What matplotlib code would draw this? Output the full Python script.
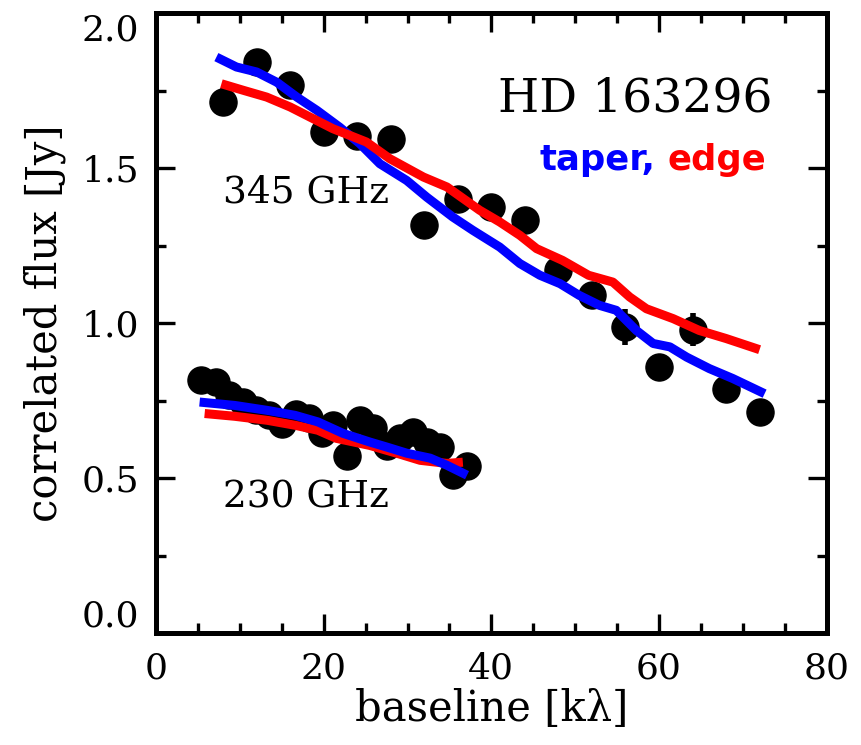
import numpy as np
import matplotlib
matplotlib.use("Agg")
import matplotlib.pyplot as plt
from matplotlib.ticker import MultipleLocator

# 345 GHz visibilities
x345 = [8, 12, 16, 20, 24, 28, 32, 36, 40, 44, 48, 52, 56, 60, 64, 68, 72]
y345 = [1.714, 1.843, 1.768, 1.617, 1.606, 1.596, 1.316, 1.402, 1.375, 1.332,
        1.171, 1.090, 0.988, 0.859, 0.980, 0.789, 0.714]
e345 = [0.045, 0.03, 0.03, 0.03, 0.03, 0.03, 0.03, 0.03, 0.03, 0.03,
        0.03, 0.03, 0.058, 0.03, 0.052, 0.03, 0.03]

# 230 GHz visibilities
x230 = [5.4, 7.2, 8.7, 10.4, 11.9, 13.5, 15.0, 16.7, 18.2, 19.8, 21.1,
        22.8, 24.3, 25.9, 27.5, 29.1, 30.6, 32.3, 33.9, 35.4, 37.1]
y230 = [0.816, 0.810, 0.768, 0.745, 0.719, 0.703, 0.674, 0.706, 0.694, 0.645, 0.671,
        0.571, 0.687, 0.661, 0.603, 0.629, 0.648, 0.616, 0.600, 0.510, 0.539]
e230 = [0.02] * len(x230)

# models
taper345_x = [7.2, 9.6, 12.0, 14.4, 16.8, 19.2, 21.9, 24.3, 26.7, 29.9, 32.3, 35.4,
              37.8, 41.0, 43.4, 45.8, 48.2, 50.5, 52.9, 54.9, 57.3, 59.3, 61.3,
              63.3, 66.0, 68.8, 72.6]
taper345_y = [1.859, 1.827, 1.811, 1.778, 1.730, 1.687, 1.633, 1.580, 1.515, 1.461,
              1.407, 1.343, 1.300, 1.246, 1.193, 1.155, 1.128, 1.090, 1.058, 1.042,
              0.977, 0.935, 0.924, 0.891, 0.854, 0.822, 0.773]
edge345_x = [7.8, 10.4, 13.2, 16.0, 18.4, 21.1, 25.1, 27.9, 31.9, 34.7, 38.6, 41.0,
             43.4, 45.4, 48.5, 51.6, 54.5, 56.5, 58.5, 61.7, 64.8, 68.0, 72.0]
edge345_y = [1.773, 1.752, 1.730, 1.698, 1.665, 1.628, 1.585, 1.531, 1.472, 1.440,
             1.365, 1.327, 1.284, 1.241, 1.203, 1.155, 1.133, 1.085, 1.047, 1.015,
             0.977, 0.951, 0.915]
taper230_x = [5.2, 9.4, 13.3, 16.6, 19.3, 22.3, 25.5, 27.5, 29.9, 32.7, 34.7, 37.1]
taper230_y = [0.746, 0.735, 0.719, 0.703, 0.682, 0.645, 0.617, 0.601, 0.581, 0.565,
              0.542, 0.510]
edge230_x = [5.8, 9.4, 13.3, 16.6, 19.3, 21.5, 25.5, 28.7, 31.5, 34.7, 36.6]
edge230_y = [0.709, 0.700, 0.687, 0.671, 0.655, 0.629, 0.606, 0.581, 0.558, 0.548, 0.552]

serif = "DejaVu Serif"

fig = plt.figure(figsize=(8.62, 7.45), dpi=100)
ax = fig.add_axes([0.181, 0.150, 0.778, 0.832])

# data points
ax.errorbar(x345, y345, yerr=e345, fmt="o", color="k", ms=19.5, elinewidth=4, capsize=0, zorder=2)
ax.errorbar(x230, y230, yerr=e230, fmt="o", color="k", ms=19.5, elinewidth=4, capsize=0, zorder=2)

# model curves
ax.plot(taper345_x, taper345_y, color="#0000ff", lw=6.5, zorder=3, solid_capstyle="butt")
ax.plot(edge345_x, edge345_y, color="#ff0000", lw=6.5, zorder=4, solid_capstyle="butt")
ax.plot(edge230_x, edge230_y, color="#ff0000", lw=6.5, zorder=3, solid_capstyle="butt")
ax.plot(taper230_x, taper230_y, color="#0000ff", lw=6.5, zorder=4, solid_capstyle="butt")

ax.set_xlim(0, 80)
ax.set_ylim(0, 2.0)
ax.set_xticks([0, 20, 40, 60, 80])
ax.set_yticks([0.0, 0.5, 1.0, 1.5, 2.0])
ax.set_yticklabels(["0.0", "0.5", "1.0", "1.5", "2.0"])
ax.xaxis.set_minor_locator(MultipleLocator(5))
ax.yaxis.set_minor_locator(MultipleLocator(0.25))
ax.tick_params(which="both", direction="in", top=True, right=True, width=2.4)
ax.tick_params(which="major", length=14, labelsize=26)
ax.tick_params(which="minor", length=7)
ax.tick_params(axis="x", which="major", pad=13)
ax.tick_params(axis="y", which="major", pad=12)
for lab in ax.get_xticklabels() + ax.get_yticklabels():
    lab.set_family(serif)
ylabs = ax.get_yticklabels()
ylabs[-1].set_va("top")
ylabs[0].set_va("bottom")

for s in ax.spines.values():
    s.set_linewidth(3.6)

ax.set_xlabel("baseline [k\u03bb]", fontsize=30, family=serif)
ax.set_ylabel("correlated flux [Jy]", fontsize=30, family=serif)
ax.xaxis.set_label_coords(0.5, -0.089)
ax.yaxis.set_label_coords(-0.134, 0.5)

ax.text(40.8, 1.682, "HD 163296", fontsize=34, family=serif, ha="left", va="baseline")
ax.text(59.6, 1.494, "taper,", fontsize=25.5, fontweight="bold", color="#0000ff",
        family="DejaVu Sans", ha="right", va="baseline")
ax.text(72.8, 1.494, "edge", fontsize=25.5, fontweight="bold", color="#ff0000",
        family="DejaVu Sans", ha="right", va="baseline")
ax.text(8.0, 1.391, "345 GHz", fontsize=27, family=serif, ha="left", va="baseline")
ax.text(8.0, 0.407, "230 GHz", fontsize=27, family=serif, ha="left", va="baseline")

fig.savefig("out.png", dpi=100)
